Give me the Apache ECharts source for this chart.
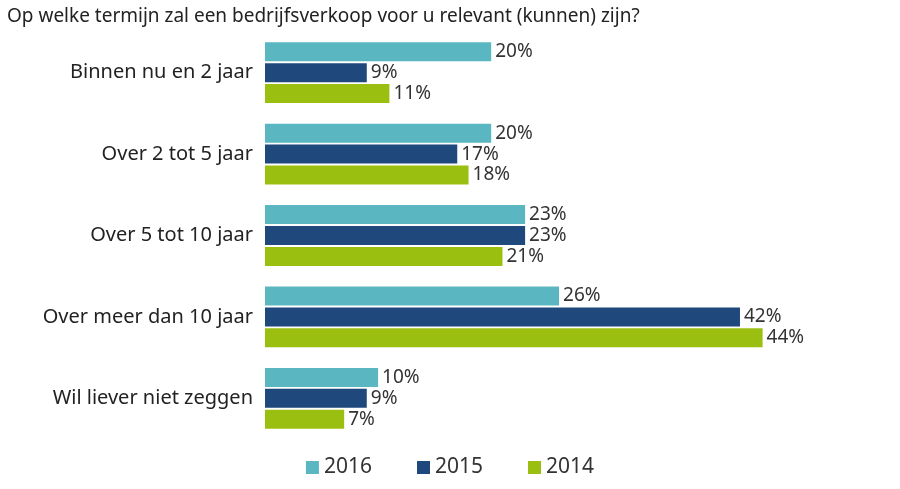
<!DOCTYPE html>
<html><head><meta charset="utf-8">
<script src="https://cdn.jsdelivr.net/npm/echarts@6/dist/echarts.min.js"></script>
<style>html,body{margin:0;padding:0;background:#fff}#c{width:900px;height:489px}</style>
</head><body><div id="c"></div>
<script>
const categories = ["Binnen nu en 2 jaar","Over 2 tot 5 jaar","Over 5 tot 10 jaar","Over meer dan 10 jaar","Wil liever niet zeggen"];
const s2016 = [20,20,23,26,10];
const s2015 = [9,17,23,42,9];
const s2014 = [11,18,21,44,7];
const seriesNames = ["2016","2015","2014"];
const colors = ["#5ab6c0","#1f497d","#9bbf10"];
const chart = echarts.init(document.getElementById('c'));
const font = '"Noto Sans", sans-serif';
const mk = (name, data, color) => ({
  name, type:'bar', data, barWidth:19, barGap:'10%',
  itemStyle:{color},
  label:{show:true, position:'right', formatter:'{c}%', color:'#333', fontSize:19, fontFamily:font, distance:4},
  animation:false
});
chart.setOption({
  animation:false,
  title:{text:'Op welke termijn zal een bedrijfsverkoop voor u relevant (kunnen) zijn?', left:2, top:2,
    textStyle:{fontSize:19, fontWeight:'normal', color:'#222', fontFamily:font}},
  legend:{bottom:6, left:'center', itemWidth:13, itemHeight:13, itemGap:45, icon:'rect',
    textStyle:{fontSize:21, color:'#333', fontFamily:font}, data:seriesNames},
  grid:{left:265, top:32, width:622, height:407},
  xAxis:{type:'value', min:0, max:55, show:false},
  yAxis:{type:'category', data:categories, inverse:true,
    axisLine:{show:false}, axisTick:{show:false},
    axisLabel:{fontSize:20, color:'#222', fontFamily:font, margin:12}},
  series:[mk(seriesNames[0],s2016,colors[0]),mk(seriesNames[1],s2015,colors[1]),mk(seriesNames[2],s2014,colors[2])]
});
</script></body></html>
